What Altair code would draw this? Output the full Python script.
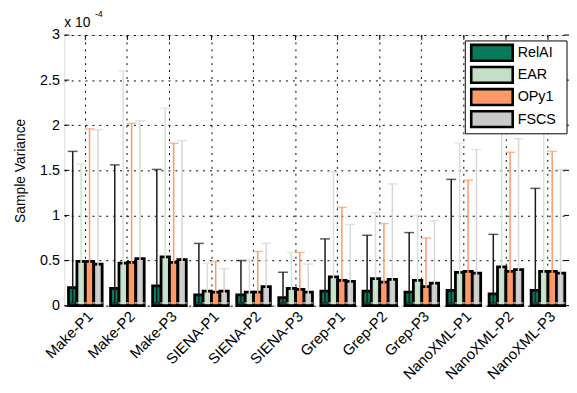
import altair as alt
import pandas as pd

groups = ["Make-P1", "Make-P2", "Make-P3", "SIENA-P1", "SIENA-P2", "SIENA-P3",
          "Grep-P1", "Grep-P2", "Grep-P3", "NanoXML-P1", "NanoXML-P2", "NanoXML-P3"]
series = ["RelAI", "EAR", "OPy1", "FSCS"]

# mean sample variance (x 1e-4)
relai_mean = [0.20, 0.19, 0.22, 0.12, 0.12, 0.09, 0.16, 0.16, 0.15, 0.17, 0.13, 0.17]
ear_mean   = [0.49, 0.47, 0.54, 0.16, 0.15, 0.19, 0.32, 0.30, 0.28, 0.37, 0.43, 0.38]
opy1_mean  = [0.49, 0.48, 0.48, 0.15, 0.15, 0.18, 0.28, 0.26, 0.21, 0.38, 0.38, 0.38]
fscs_mean  = [0.46, 0.52, 0.51, 0.16, 0.21, 0.15, 0.27, 0.29, 0.25, 0.36, 0.40, 0.36]

# upper end of error bars
relai_hi = [1.71, 1.56, 1.51, 0.69, 0.50, 0.37, 0.74, 0.78, 0.81, 1.40, 0.79, 1.30]
ear_hi   = [1.57, 2.60, 2.19, 0.47, 0.51, 0.59, 1.48, 1.03, 1.00, 1.80, 2.10, 2.10]
opy1_hi  = [1.96, 2.02, 1.80, 0.49, 0.60, 0.59, 1.09, 0.91, 0.75, 1.39, 1.70, 1.71]
fscs_hi  = [1.95, 2.05, 1.83, 0.41, 0.69, 0.46, 0.90, 1.35, 0.94, 1.73, 1.85, 1.51]

# lower end of error bars
relai_lo = [0.03] * 12
ear_lo   = [0.03] * 12
opy1_lo  = [0.03] * 12
fscs_lo  = [0.03] * 12

y_ticks = [0, 0.5, 1, 1.5, 2, 2.5, 3]

bar_colors = ["#077a5c", "#c3dfc6", "#ff9a66", "#c9c9c9"]
err_colors = ["#1a1a1a", "#cfe6d1", "#ff9966", "#d6d6d6"]

rows = []
for s, ms, hs, ls in zip(series,
                         [relai_mean, ear_mean, opy1_mean, fscs_mean],
                         [relai_hi, ear_hi, opy1_hi, fscs_hi],
                         [relai_lo, ear_lo, opy1_lo, fscs_lo]):
    for g, m, h, l in zip(groups, ms, hs, ls):
        rows.append({"group": g, "series": s, "mean": m, "hi": h, "lo": l})
df = pd.DataFrame(rows)

W, H = 511, 274
FONT = "Liberation Sans"

xscale = alt.Scale(domain=groups, paddingInner=0.2, paddingOuter=0.1)
xaxis = alt.Axis(title=None, labelAngle=-45, labelAlign="right", labelBaseline="top",
                 labelFont=FONT, labelFontSize=15, labelColor="black", labelPadding=3,
                 ticks=False, domain=False, grid=True, gridColor="black",
                 gridDash=[2, 5], gridWidth=1, gridOpacity=1)
yscale = alt.Scale(domain=[0, 3], nice=False, zero=True)
yaxis = alt.Axis(title="Sample Variance", values=y_ticks, format="~g",
                 labelFont=FONT, labelFontSize=14.5, labelColor="black", labelPadding=5,
                 titleFont=FONT, titleFontSize=14, titleFontWeight="normal",
                 titleColor="black", titlePadding=12,
                 ticks=False, domain=False, grid=True, gridColor="black",
                 gridDash=[2, 5], gridWidth=1, gridOpacity=1)

X = alt.X("group:N", scale=xscale, axis=xaxis, sort=groups)
XO = alt.XOffset("series:N", sort=series, scale=alt.Scale(domain=series, paddingInner=0, paddingOuter=0))
errcolor = alt.Color("series:N", scale=alt.Scale(domain=series, range=err_colors), legend=None)
fillscale = alt.Scale(domain=series, range=bar_colors)

base = alt.Chart(df)

bars = base.mark_bar(stroke="black", strokeWidth=2.8, opacity=1).encode(
    x=X, xOffset=XO,
    y=alt.Y("mean:Q", scale=yscale, axis=yaxis),
    fill=alt.Fill("series:N", sort=series, scale=fillscale, legend=None),
)

rules = base.mark_rule(strokeWidth=1.5).encode(
    x=X, xOffset=XO,
    y=alt.Y("lo:Q", scale=yscale, axis=yaxis), y2="hi:Q",
    color=errcolor,
)
caps_hi = base.mark_tick(orient="horizontal", size=10, thickness=1.5).encode(
    x=X, xOffset=XO, y=alt.Y("hi:Q", scale=yscale, axis=yaxis), color=errcolor,
)
caps_lo = base.mark_tick(orient="horizontal", size=10, thickness=1.5).encode(
    x=X, xOffset=XO, y=alt.Y("lo:Q", scale=yscale, axis=yaxis), color=errcolor,
)

gdf = pd.DataFrame({"group": groups})
tdf = pd.DataFrame({"v": y_ticks})
top_ticks = alt.Chart(gdf).mark_rule(color="black", strokeWidth=1).encode(
    x=X, y=alt.value(0), y2=alt.value(5))
left_ticks = alt.Chart(tdf).mark_rule(color="black", strokeWidth=1).encode(
    y=alt.Y("v:Q", scale=yscale, axis=yaxis), x=alt.value(0), x2=alt.value(5))
right_ticks = alt.Chart(tdf).mark_rule(color="black", strokeWidth=1).encode(
    y=alt.Y("v:Q", scale=yscale, axis=yaxis), x=alt.value(W), x2=alt.value(W - 5))

exp_main = alt.Chart(pd.DataFrame({"t": ["x 10"]})).mark_text(
    align="left", baseline="alphabetic", font=FONT, fontSize=14, color="black").encode(
    text="t:N", x=alt.value(0), y=alt.value(-8))
exp_sup = alt.Chart(pd.DataFrame({"t": ["-4"]})).mark_text(
    align="left", baseline="alphabetic", font=FONT, fontSize=9, color="black").encode(
    text="t:N", x=alt.value(31), y=alt.value(-18))

# legend box (drawn as annotation, top-right inside the plot)
LX0, LX1, LY0, LY1 = 406, 509, 6, 100
legend_layers = [
    alt.Chart(pd.DataFrame({"k": [0]})).mark_rect(fill="white", stroke="black", strokeWidth=1).encode(
        x=alt.value(LX0), x2=alt.value(LX1), y=alt.value(LY0), y2=alt.value(LY1))
]
for i, s in enumerate(series):
    top = 10 + i * 22.4
    sdf = pd.DataFrame({"series": [s]})
    legend_layers.append(
        alt.Chart(sdf).mark_rect(stroke="black", strokeWidth=2.6).encode(
            x=alt.value(412), x2=alt.value(454), y=alt.value(top), y2=alt.value(top + 16),
            fill=alt.Fill("series:N", scale=fillscale, legend=None)))
    legend_layers.append(
        alt.Chart(sdf).mark_text(align="left", baseline="middle", font=FONT, fontSize=14.5,
                                 color="black").encode(
            text="series:N", x=alt.value(459), y=alt.value(top + 8.5)))

chart = alt.layer(
    bars, rules, caps_hi, caps_lo, top_ticks, left_ticks, right_ticks, exp_main, exp_sup,
    *legend_layers
).properties(
    width=W, height=H,
    padding={"left": 57, "top": 25, "right": 0, "bottom": 78},
    autosize=alt.AutoSizeParams(type="none"),
).configure_view(
    stroke="black", strokeWidth=1
).configure(background="white")

chart.save("out.html", embed_options={"renderer": "svg", "actions": False})
